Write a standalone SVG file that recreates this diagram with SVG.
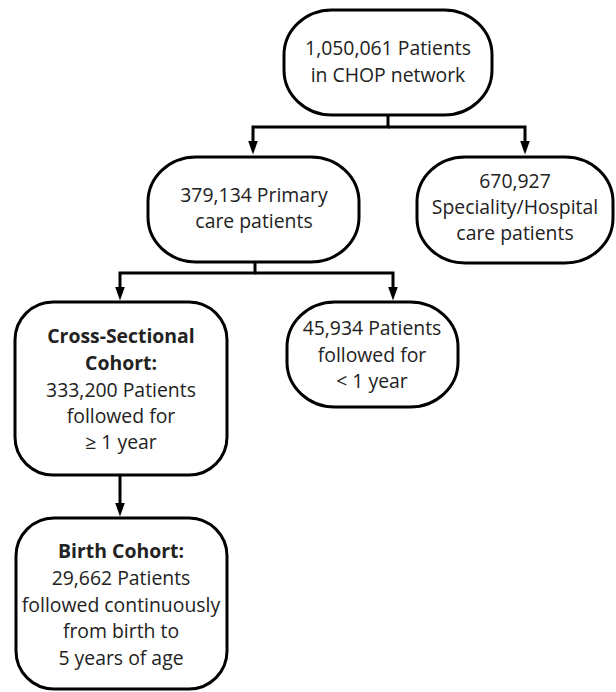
<svg xmlns="http://www.w3.org/2000/svg" width="616" height="692" viewBox="0 0 616 692">
<defs>
<marker id="arr" markerWidth="14" markerHeight="10" refX="0.5" refY="5" orient="auto" markerUnits="userSpaceOnUse" viewBox="0 0 14 10">
<path d="M0,0 L14,5 L0,10 Z" fill="#000"/>
</marker>
<style>
.box{fill:#fff;stroke:#000;stroke-width:3}
.t{font-family:"Open Sans","Liberation Sans",sans-serif;font-size:19.4px;fill:#222;text-anchor:middle}
.b{font-weight:bold}
.c{fill:none;stroke:#000;stroke-width:3;stroke-linejoin:miter}
</style>
</defs>
<rect width="616" height="692" fill="#fff"/>
<g id="connectors">
<path class="c" d="M388,115 V127 H253 V141" marker-end="url(#arr)"/>
<path class="c" d="M388,127 H525 V141" marker-end="url(#arr)"/>
<path class="c" d="M255,262 V273 H120 V287" marker-end="url(#arr)"/>
<path class="c" d="M255,273 H393 V287" marker-end="url(#arr)"/>
<path class="c" d="M120,475 V503" marker-end="url(#arr)"/>
</g>
<g id="n1">
<rect class="box" x="284" y="10" width="208" height="105" rx="48" ry="45"/>
<text class="t" x="388" y="55">1,050,061 Patients</text>
<text class="t" x="388" y="82">in CHOP network</text>
</g>
<g id="n2">
<rect class="box" x="148" y="157" width="211" height="105" rx="48" ry="45"/>
<text class="t" x="254" y="202">379,134 Primary</text>
<text class="t" x="254" y="228">care patients</text>
</g>
<g id="n3">
<rect class="box" x="417" y="157" width="196" height="106" rx="48" ry="45"/>
<text class="t" x="515" y="188">670,927</text>
<text class="t" x="515" y="214">Speciality/Hospital</text>
<text class="t" x="515" y="240">care patients</text>
</g>
<g id="n4">
<rect class="box" x="15" y="302" width="212" height="173" rx="38" ry="38"/>
<text class="t b" x="121" y="343">Cross-Sectional</text>
<text class="t b" x="121" y="370">Cohort:</text>
<text class="t" x="121" y="397">333,200 Patients</text>
<text class="t" x="121" y="423">followed for</text>
<text class="t" x="121" y="449">≥ 1 year</text>
</g>
<g id="n5">
<rect class="box" x="287" y="302" width="171" height="105" rx="48" ry="45"/>
<text class="t" x="372" y="335">45,934 Patients</text>
<text class="t" x="372" y="362">followed for</text>
<text class="t" x="372" y="388">&lt; 1 year</text>
</g>
<g id="n6">
<rect class="box" x="16" y="518" width="211" height="171" rx="38" ry="38"/>
<text class="t b" x="121" y="558">Birth Cohort:</text>
<text class="t" x="121" y="585">29,662 Patients</text>
<text class="t" x="121" y="612">followed continuously</text>
<text class="t" x="121" y="638">from birth to</text>
<text class="t" x="121" y="665">5 years of age</text>
</g>
</svg>
